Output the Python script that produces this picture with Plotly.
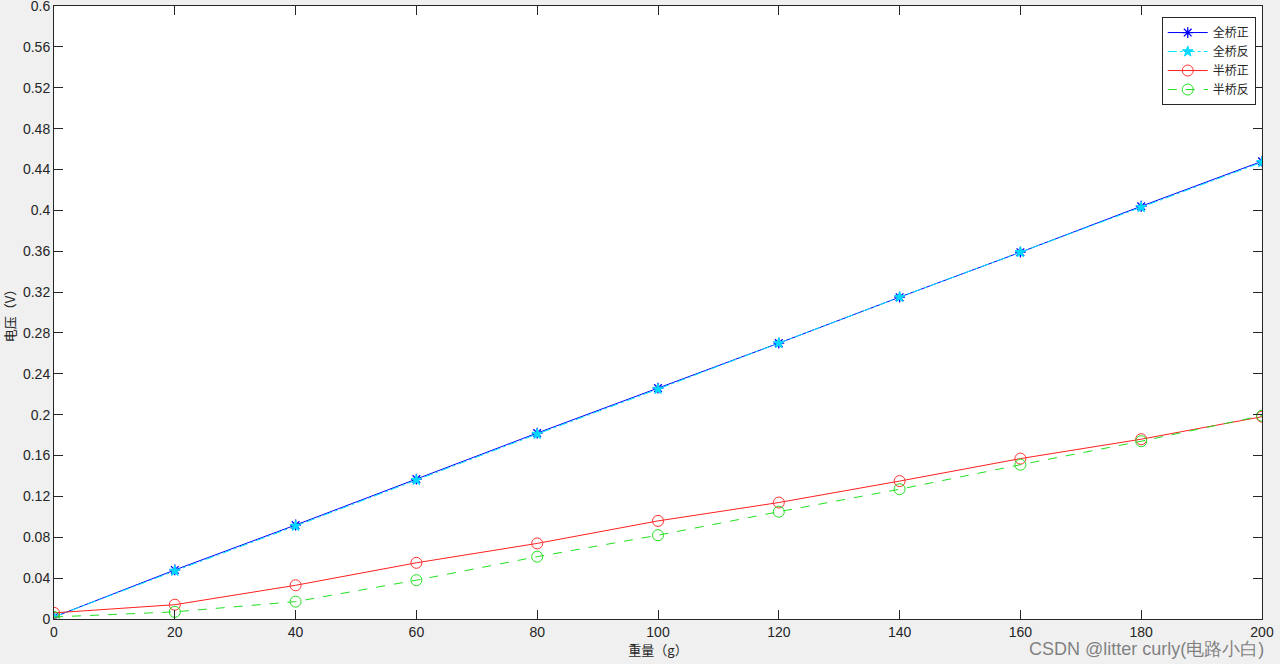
import plotly.graph_objects as go

weight_g = [0, 20, 40, 60, 80, 100, 120, 140, 160, 180, 200]
full_fwd = [0.002, 0.048, 0.092, 0.137, 0.182, 0.226, 0.270, 0.315, 0.359, 0.404, 0.448]
full_rev = [0.002, 0.047, 0.091, 0.136, 0.181, 0.225, 0.270, 0.315, 0.359, 0.403, 0.447]
half_fwd = [0.006, 0.014, 0.033, 0.055, 0.074, 0.096, 0.114, 0.135, 0.157, 0.176, 0.198]
half_rev = [0.002, 0.007, 0.017, 0.038, 0.061, 0.082, 0.105, 0.127, 0.151, 0.174, 0.199]

y_ticks = [round(i * 0.04, 2) for i in range(16)]
y_labels = ["0", "0.04", "0.08", "0.12", "0.16", "0.2", "0.24", "0.28", "0.32",
            "0.36", "0.4", "0.44", "0.48", "0.52", "0.56", "0.6"]
x_ticks = list(range(0, 201, 20))

fig = go.Figure()
fig.add_trace(go.Scatter(
    x=weight_g, y=full_fwd, name="全桥正", mode="lines+markers",
    line=dict(color="#0000ff", width=1),
    marker=dict(symbol="asterisk-open", size=9, color="#0000ff", line=dict(width=1.3, color="#0000ff")),
))
fig.add_trace(go.Scatter(
    x=weight_g, y=full_rev, name="全桥反", mode="lines+markers",
    line=dict(color="#00e5ff", width=1, dash="dashdot"),
    marker=dict(symbol="star", size=8, color="#00d8ff", line=dict(width=1, color="#00d8ff")),
))
fig.add_trace(go.Scatter(
    x=weight_g, y=half_fwd, name="半桥正", mode="lines+markers",
    line=dict(color="#ff2020", width=1),
    marker=dict(symbol="circle-open", size=11, color="#ff3030", line=dict(width=1)),
))
fig.add_trace(go.Scatter(
    x=weight_g, y=half_rev, name="半桥反", mode="lines+markers",
    line=dict(color="#20e020", width=1, dash="dash"),
    marker=dict(symbol="circle-open", size=11, color="#20e020", line=dict(width=1)),
))

axis_common = dict(
    showgrid=False, zeroline=False, showline=True, linecolor="#262626", linewidth=1,
    mirror="ticks", ticks="inside", ticklen=9, tickcolor="#262626", tickwidth=1,
    ticklabeloverflow="allow", automargin=False,
    tickfont=dict(family="Liberation Sans, Arial", size=14, color="#262626"),
)

fig.update_xaxes(range=[0, 200], tickvals=x_ticks, ticktext=[str(v) for v in x_ticks],
                 title=dict(text="重量（g）", standoff=2,
                            font=dict(family="Noto Sans CJK SC", size=13, color="#262626")),
                 **axis_common)
fig.update_yaxes(range=[0, 0.6], tickvals=y_ticks, ticktext=y_labels,
                 title=dict(text="电压（V）", standoff=4,
                            font=dict(family="Noto Sans CJK SC", size=13, color="#262626")),
                 **axis_common)

fig.add_annotation(
    text="CSDN @litter curly(电路小白)", xref="paper", yref="paper",
    x=1.003, y=-0.03, xanchor="right", yanchor="top", showarrow=False,
    font=dict(family="Liberation Sans, Arial", size=18, color="rgba(90,90,90,0.75)"),
)

fig.update_layout(
    width=1280, height=664,
    paper_bgcolor="#f0f0f0", plot_bgcolor="#ffffff",
    margin=dict(l=54, r=18, t=6, b=45),
    showlegend=True,
    legend=dict(
        x=0.917, y=0.982, xanchor="left", yanchor="top",
        bgcolor="#ffffff", bordercolor="#262626", borderwidth=1,
        font=dict(family="Noto Sans CJK SC", size=12, color="#262626"),
        itemwidth=40, tracegroupgap=0,
    ),
)

fig.write_html("out.html", config={"displayModeBar": False},
               post_script="document.body.style.margin='0';")
